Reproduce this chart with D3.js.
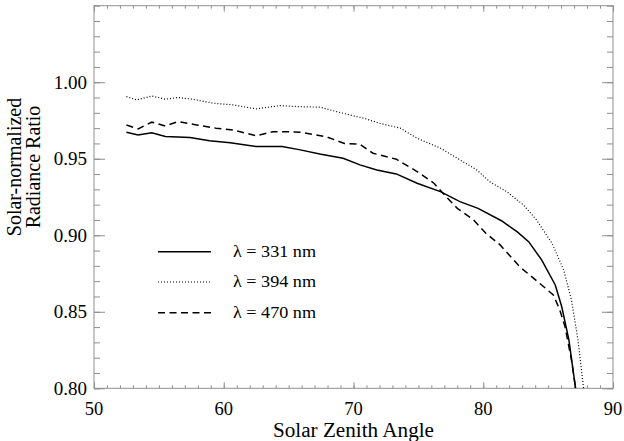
<!DOCTYPE html>
<html><head><meta charset="utf-8">
<script src="https://cdn.jsdelivr.net/npm/d3@7"></script>
<style>body{margin:0;background:#fff}svg{display:block}text{font-family:"Liberation Serif",serif;fill:#000}</style>
</head><body><svg id="c" width="624" height="441"></svg>
<script>
const xTicks = [50, 60, 70, 80, 90];
const yTicks = [0.80, 0.85, 0.90, 0.95, 1.00];
const seriesNames = ["λ = 331 nm", "λ = 394 nm", "λ = 470 nm"];

const x331 = [52.5,53.4,54.45,55.5,57.4,58.9,60.5,62.5,64.5,65.9,67.4,69.2,70.5,71.8,73.3,74.9,76.7,78.2,79.6,81.4,82.6,83.5,84.5,85.55,86.05,86.6,87.2];
const y331 = [.9673,.9656,.967,.9645,.9638,.9618,.9605,.958,.958,.9558,.9531,.9503,.946,.9427,.9401,.934,.9285,.922,.9176,.9095,.9024,.8958,.8839,.8675,.8533,.8316,.795];

const x394 = [52.5,53.3,54.45,55.5,56.5,57.6,59.2,60.7,62.5,64.3,65.9,67.4,68.7,70.0,70.8,72.0,73.6,74.9,76.7,78.0,79.5,80.5,81.8,83.1,84.1,85.3,86.2,86.8,87.3,87.8];
const y394 = [.9906,.9884,.991,.9889,.990,.9889,.9863,.9852,.9826,.9847,.984,.9837,.9808,.978,.9765,.9732,.970,.9634,.9569,.9503,.9427,.935,.9285,.9198,.910,.8948,.8773,.8577,.8316,.795];

const x470 = [52.5,53.4,54.45,55.5,56.5,57.9,59.4,60.7,62.5,63.8,64.8,65.9,67.9,69.3,70.5,71.5,73.3,74.9,76.2,76.9,78.0,79.2,80.2,81.3,82.8,84.5,85.4,85.9,86.3,86.8,87.2];
const y470 = [.972,.9695,.9739,.9714,.9743,.9721,.970,.9688,.965,.9677,.9677,.9673,.9644,.960,.9595,.9536,.9497,.9416,.934,.9274,.9176,.9105,.9013,.8937,.8795,.8675,.861,.8512,.8403,.8185,.795];

const L = 94, R = 613, T = 5.7, B = 388.3;
const svg = d3.select("#c");
const x = d3.scaleLinear().domain([50, 90]).range([L, R]);
const y = d3.scaleLinear().domain([0.80, 1.05]).range([B, T]);
const axisColor = "#8f8f8f";

const xMinor = d3.range(50, 91, 1);
const yMinor = d3.range(80, 106, 1).map(v => v / 100);

function styleAxis(g) {
  g.select(".domain").remove();
  g.selectAll(".tick line").attr("stroke", axisColor).attr("stroke-width", 1);
  g.selectAll(".tick text").remove();
}
// minor ticks
svg.append("g").attr("transform", `translate(0,${B})`).call(d3.axisBottom(x).tickValues(xMinor).tickSize(-3)).call(styleAxis);
svg.append("g").attr("transform", `translate(0,${T})`).call(d3.axisTop(x).tickValues(xMinor).tickSize(-3)).call(styleAxis);
svg.append("g").attr("transform", `translate(${L},0)`).call(d3.axisLeft(y).tickValues(yMinor).tickSize(-6)).call(styleAxis);
svg.append("g").attr("transform", `translate(${R},0)`).call(d3.axisRight(y).tickValues(yMinor).tickSize(-6)).call(styleAxis);
// major ticks
svg.append("g").attr("transform", `translate(0,${B})`).call(d3.axisBottom(x).tickValues(xTicks).tickSize(-6)).call(styleAxis);
svg.append("g").attr("transform", `translate(0,${T})`).call(d3.axisTop(x).tickValues(xTicks).tickSize(-6)).call(styleAxis);
svg.append("g").attr("transform", `translate(${L},0)`).call(d3.axisLeft(y).tickValues(yTicks).tickSize(-11)).call(styleAxis);
svg.append("g").attr("transform", `translate(${R},0)`).call(d3.axisRight(y).tickValues(yTicks).tickSize(-11)).call(styleAxis);

// frame
svg.append("rect").attr("x", L).attr("y", T).attr("width", R - L).attr("height", B - T)
  .attr("fill", "none").attr("stroke", axisColor).attr("stroke-width", 1);

// tick labels
svg.append("g").selectAll("text").data(xTicks).join("text")
  .attr("x", d => x(d)).attr("y", 414.5).attr("text-anchor", "middle")
  .attr("font-size", 18.5).text(d => d);
svg.append("g").selectAll("text").data(yTicks).join("text")
  .attr("x", 87).attr("y", d => y(d)).attr("dy", "0.34em").attr("text-anchor", "end")
  .attr("font-size", 19).text(d => d.toFixed(2));

// axis titles
svg.append("text").attr("x", (L + R) / 2).attr("y", 437).attr("text-anchor", "middle")
  .attr("font-size", 20).attr("textLength", 161).attr("lengthAdjust", "spacingAndGlyphs")
  .text("Solar Zenith Angle");
const yt = svg.append("text").attr("transform", "translate(21,167) rotate(-90)").attr("text-anchor", "middle").attr("font-size", 20);
yt.append("tspan").attr("x", 0).attr("y", 0).text("Solar-normalized");
yt.append("tspan").attr("x", 0).attr("y", 19).text("Radiance Ratio");

// clip
svg.append("clipPath").attr("id", "clip").append("rect").attr("x", L).attr("y", T).attr("width", R - L).attr("height", B - T);

const styles = [
  {dash: null, w: 1.5},
  {dash: "1,2", w: 1.2},
  {dash: "7,4.5", w: 1.5}
];
const data = [
  x331.map((v, i) => [v, y331[i]]),
  x394.map((v, i) => [v, y394[i]]),
  x470.map((v, i) => [v, y470[i]])
];
const line = d3.line().x(d => x(d[0])).y(d => y(d[1]));
const gl = svg.append("g").attr("clip-path", "url(#clip)");
data.forEach((d, i) => {
  gl.append("path").datum(d).attr("d", line).attr("fill", "none").attr("stroke", "#000")
    .attr("stroke-width", styles[i].w).attr("stroke-dasharray", styles[i].dash);
});

// legend
const legY = [251.7, 282, 312.7];
seriesNames.forEach((n, i) => {
  svg.append("line").attr("x1", 158).attr("x2", 211).attr("y1", legY[i]).attr("y2", legY[i])
    .attr("stroke", "#000").attr("stroke-width", styles[i].w).attr("stroke-dasharray", styles[i].dash);
  svg.append("text").attr("x", 233).attr("y", legY[i] + 5).attr("font-size", 16)
    .attr("textLength", 83).attr("lengthAdjust", "spacingAndGlyphs").text(n);
});
</script></body></html>
